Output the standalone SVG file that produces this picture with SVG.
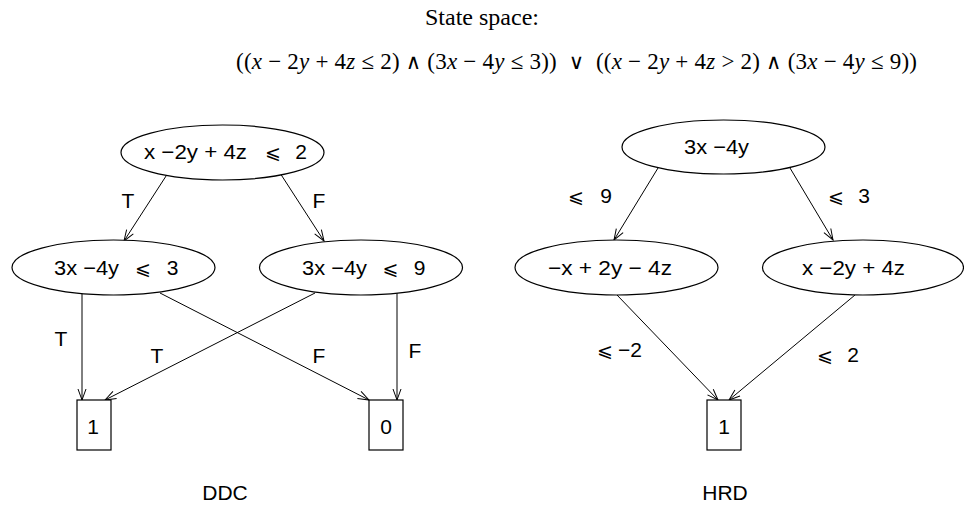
<svg xmlns="http://www.w3.org/2000/svg" width="964" height="509" viewBox="0 0 964 509">
<defs>
<marker id="arr" markerUnits="userSpaceOnUse" markerWidth="14" markerHeight="12" refX="12" refY="5" orient="auto">
<path d="M1,1 L12,5 L1,9" fill="none" stroke="#000" stroke-width="1"/>
</marker>
<style>
.n{fill:#fff;stroke:#000;stroke-width:1.2}
.t{font-family:"Liberation Sans","DejaVu Sans",sans-serif;font-size:21px;fill:#000}
.le{font-family:"DejaVu Sans",sans-serif;font-size:19px;fill:#000}
.e{fill:none;stroke:#000;stroke-width:1;marker-end:url(#arr)}
.s{font-family:"Liberation Serif","DejaVu Serif",serif;font-size:23px;fill:#000}
.i{font-style:italic}
.op{font-family:"DejaVu Serif",serif;font-size:21px}
</style>
</defs>
<rect width="964" height="509" fill="#fff"/>
<text class="s" x="482" y="25" text-anchor="middle" style="font-size:24px">State space:</text>
<text class="s" x="236" y="69" textLength="681" lengthAdjust="spacing">((<tspan class="i">x</tspan> − 2<tspan class="i">y</tspan> + 4<tspan class="i">z</tspan> ≤ 2) <tspan class="op">∧</tspan> (3<tspan class="i">x</tspan> − 4<tspan class="i">y</tspan> ≤ 3))&#8194;<tspan class="op">∨</tspan>&#8194;((<tspan class="i">x</tspan> − 2<tspan class="i">y</tspan> + 4<tspan class="i">z</tspan> &gt; 2) <tspan class="op">∧</tspan> (3<tspan class="i">x</tspan> − 4<tspan class="i">y</tspan> ≤ 9))</text>

<g id="connectors">
<line class="e" x1="168" y1="173" x2="124" y2="241"/>
<line class="e" x1="280" y1="173" x2="324" y2="241"/>
<line class="e" x1="82" y1="294" x2="82" y2="400"/>
<line class="e" x1="397" y1="293" x2="397" y2="400"/>
<line class="e" x1="160" y1="293" x2="369" y2="400"/>
<line class="e" x1="315" y1="293" x2="105" y2="400"/>
<line class="e" x1="658" y1="168" x2="614" y2="240"/>
<line class="e" x1="790" y1="168" x2="833" y2="240"/>
<line class="e" x1="617" y1="295" x2="718" y2="400"/>
<line class="e" x1="855" y1="295" x2="729" y2="400"/>
<text class="t" x="128" y="208" text-anchor="middle">T</text>
<text class="t" x="319" y="208" text-anchor="middle">F</text>
<text class="t" x="61" y="346" text-anchor="middle">T</text>
<text class="t" x="157" y="363" text-anchor="middle">T</text>
<text class="t" x="319" y="363" text-anchor="middle">F</text>
<text class="t" x="415" y="358" text-anchor="middle">F</text>
<text class="le" x="576" y="203" text-anchor="middle">⩽</text>
<text class="t" x="606" y="203" text-anchor="middle">9</text>
<text class="le" x="836" y="203" text-anchor="middle">⩽</text>
<text class="t" x="864" y="203" text-anchor="middle">3</text>
<text class="le" x="605" y="357" text-anchor="middle">⩽</text>
<text class="t" x="630" y="357" text-anchor="middle">−2</text>
<text class="le" x="825" y="362" text-anchor="middle">⩽</text>
<text class="t" x="853" y="362" text-anchor="middle">2</text>
</g>

<g id="ddc-root">
<ellipse class="n" cx="222.5" cy="152.5" rx="101.5" ry="27.5"/>
<text class="t" x="144" y="159" textLength="103" lengthAdjust="spacingAndGlyphs">x −2y + 4z</text>
<text class="le" x="273" y="159" text-anchor="middle">⩽</text>
<text class="t" x="301" y="159" text-anchor="middle">2</text>
</g>
<g id="ddc-left">
<ellipse class="n" cx="113.5" cy="267.5" rx="101.5" ry="27.5"/>
<text class="t" x="54" y="275" textLength="65" lengthAdjust="spacingAndGlyphs">3x −4y</text>
<text class="le" x="143" y="275" text-anchor="middle">⩽</text>
<text class="t" x="172.5" y="275" text-anchor="middle">3</text>
</g>
<g id="ddc-right">
<ellipse class="n" cx="361" cy="267.5" rx="101.5" ry="27.5"/>
<text class="t" x="302" y="275" textLength="65" lengthAdjust="spacingAndGlyphs">3x −4y</text>
<text class="le" x="390.5" y="275" text-anchor="middle">⩽</text>
<text class="t" x="419.5" y="275" text-anchor="middle">9</text>
</g>
<g id="ddc-one">
<rect class="n" x="77" y="400" width="34" height="50"/>
<text class="t" x="93" y="434" text-anchor="middle">1</text>
</g>
<g id="ddc-zero">
<rect class="n" x="369" y="400" width="34" height="50"/>
<text class="t" x="386" y="434" text-anchor="middle">0</text>
</g>
<text class="t" x="225" y="500" text-anchor="middle">DDC</text>

<g id="hrd-root">
<ellipse class="n" cx="723.5" cy="147" rx="101.5" ry="27"/>
<text class="t" x="684" y="154" textLength="65" lengthAdjust="spacingAndGlyphs">3x −4y</text>
</g>
<g id="hrd-left">
<ellipse class="n" cx="616.5" cy="267.5" rx="101.5" ry="27.5"/>
<text class="t" x="548" y="275" textLength="124" lengthAdjust="spacingAndGlyphs">−x + 2y − 4z</text>
</g>
<g id="hrd-right">
<ellipse class="n" cx="863" cy="267.5" rx="100.5" ry="27.5"/>
<text class="t" x="802" y="275" textLength="103" lengthAdjust="spacingAndGlyphs">x −2y + 4z</text>
</g>
<g id="hrd-one">
<rect class="n" x="707" y="400" width="34" height="50"/>
<text class="t" x="724" y="434" text-anchor="middle">1</text>
</g>
<text class="t" x="725" y="500" text-anchor="middle">HRD</text>
</svg>
